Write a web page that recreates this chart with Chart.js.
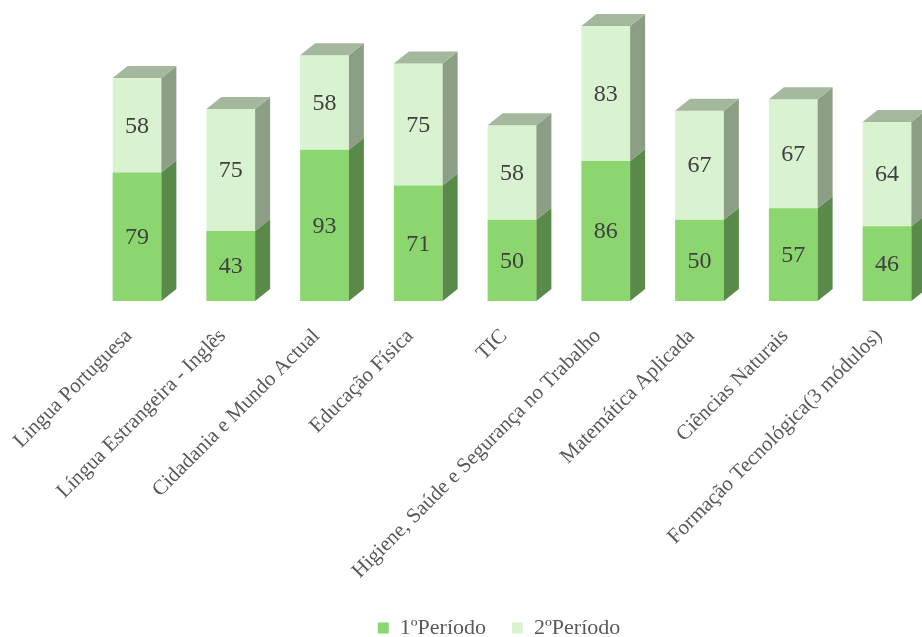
<!DOCTYPE html>
<html lang="pt">
<head>
<meta charset="utf-8">
<title>Períodos</title>
<script src="https://cdn.jsdelivr.net/npm/chart.js@4"></script>
<style>
  html, body { margin: 0; padding: 0; background: #ffffff; }
  #wrap { position: relative; width: 922px; height: 637px; }
</style>
</head>
<body>
<div id="wrap"><canvas id="grafico"></canvas></div>
<script>
// dados
const disciplinas = [
    'Lingua Portuguesa',
    'Língua Estrangeira - Inglês',
    'Cidadania e Mundo Actual',
    'Educação Física',
    'TIC',
    'Higiene, Saúde e Segurança no Trabalho',
    'Matemática Aplicada',
    'Ciências Naturais',
    'Formação Tecnológica(3 módulos)'
];
const periodo1 = [79, 43, 93, 71, 50, 86, 50, 57, 46];
const periodo2 = [58, 75, 58, 75, 58, 83, 67, 67, 64];
const nomesSeries = ['1ºPeríodo', '2ºPeríodo'];

// cores (frente, lado, topo)
const CORES = [
    { frente: '#8cd670', lado: '#5a8a49', topo: '#7fa872' },
    { frente: '#d9f2d0', lado: '#8c9e86', topo: '#a4b89e' }
];
const FONTE = 'Liberation Serif, Times New Roman, serif';
const PROF_X = 15, PROF_Y = 12;

// faces laterais e topo dos prismas
const barras3d = {
    id: 'barras3d',
    afterDatasetsDraw(chart) {
        const ctx = chart.ctx;
        const nSets = chart.data.datasets.length;
        ctx.save();
        for (let d = 0; d < nSets; d++) {
            const meta = chart.getDatasetMeta(d);
            meta.data.forEach(bar => {
                const { x, y, base, width } = bar.getProps(['x', 'y', 'base', 'width'], true);
                const r = x + width / 2, l = x - width / 2;
                ctx.fillStyle = CORES[d].lado;
                ctx.beginPath();
                ctx.moveTo(r, base);
                ctx.lineTo(r + PROF_X, base - PROF_Y);
                ctx.lineTo(r + PROF_X, y - PROF_Y);
                ctx.lineTo(r, y);
                ctx.closePath();
                ctx.fill();
                if (d === nSets - 1) {
                    ctx.fillStyle = CORES[d].topo;
                    ctx.beginPath();
                    ctx.moveTo(l, y);
                    ctx.lineTo(l + PROF_X, y - PROF_Y);
                    ctx.lineTo(r + PROF_X, y - PROF_Y);
                    ctx.lineTo(r, y);
                    ctx.closePath();
                    ctx.fill();
                }
            });
        }
        ctx.restore();
    }
};

// valores no centro de cada segmento
const rotulosValores = {
    id: 'rotulosValores',
    afterDatasetsDraw(chart) {
        const ctx = chart.ctx;
        ctx.save();
        ctx.font = '24px ' + FONTE;
        ctx.fillStyle = '#404040';
        ctx.textAlign = 'center';
        ctx.textBaseline = 'middle';
        chart.data.datasets.forEach((ds, d) => {
            chart.getDatasetMeta(d).data.forEach((bar, i) => {
                const { x, y, base } = bar.getProps(['x', 'y', 'base'], true);
                ctx.fillText(String(ds.data[i]), x, (y + base) / 2 + 1);
            });
        });
        ctx.restore();
    }
};

const grafico = new Chart(document.getElementById('grafico'), {
    type: 'bar',
    data: {
        labels: disciplinas,
        datasets: [
            { label: nomesSeries[0], data: periodo1, backgroundColor: CORES[0].frente, borderWidth: 0 },
            { label: nomesSeries[1], data: periodo2, backgroundColor: CORES[1].frente, borderWidth: 0 }
        ]
    },
    options: {
        responsive: true,
        maintainAspectRatio: false,
        animation: false,
        devicePixelRatio: 1,
        clip: false,
        categoryPercentage: 1,
        barPercentage: 0.52,
        layout: { padding: { left: 111, right: 35, top: 0, bottom: -12 } },
        scales: {
            x: {
                stacked: true,
                offset: false,
                grid: { display: false },
                border: { display: false },
                ticks: {
                    autoSkip: false,
                    minRotation: 45,
                    maxRotation: 45,
                    padding: 15,
                    labelOffset: -8,
                    color: '#595959',
                    font: { family: FONTE, size: 21 }
                },
                afterFit(scale) { scale.height = 290; }
            },
            y: {
                stacked: true,
                min: 0,
                max: 185,
                grid: { display: false },
                border: { display: false },
                ticks: { display: false },
                afterFit(scale) { scale.width = 26; }
            }
        },
        plugins: {
            legend: {
                position: 'bottom',
                labels: {
                    boxWidth: 11,
                    boxHeight: 11,
                    padding: 26,
                    color: '#595959',
                    font: { family: FONTE, size: 22 }
                }
            },
            tooltip: { enabled: false }
        }
    },
    plugins: [barras3d, rotulosValores]
});
</script>
</body>
</html>
